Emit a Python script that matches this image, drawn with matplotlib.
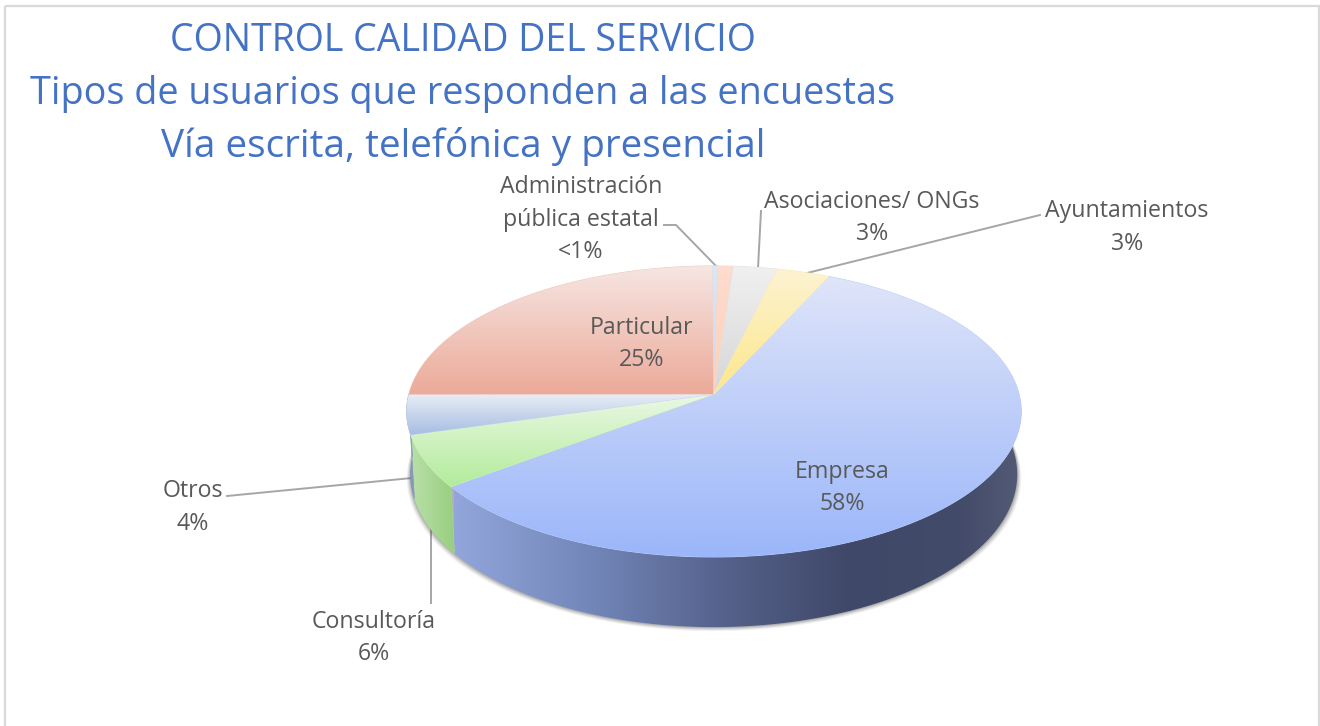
import numpy as np
import matplotlib
matplotlib.use("Agg")
import matplotlib.pyplot as plt
from matplotlib.patches import Polygon, Rectangle

plt.rcParams["font.family"] = ["Open Sans", "DejaVu Sans"]

# data -----------------------------------------------------------------------
# the peach sliver has no label in the chart, hence the empty name
categories = ["Empresa", "Consultoría", "Otros", "Particular",
              "Administración\npública estatal", "", "Asociaciones/ ONGs", "Ayuntamientos"]
shares = [58, 5.8, 4.4, 25, 0.3, 0.9, 2.6, 3.1]
share_labels = ["58%", "6%", "4%", "25%", "<1%", "", "3%", "3%"]
title_lines = ["CONTROL CALIDAD DEL SERVICIO",
               "Tipos de usuarios que responden a las encuestas",
               "Vía escrita, telefónica y presencial"]

# gradient of each top face (light end, dark end)
top_colors = [("#dfe5f9", "#9bb6f9"), ("#ebf8e5", "#b2ec9a"), ("#e8edf6", "#a6bde2"),
              ("#f6e6e2", "#ecaa99"), ("#dce8f6", "#c5d9f0"), ("#fddccf", "#fdcfba"),
              ("#f0f0f0", "#d6d6d6"), ("#fcf3d2", "#fde78a")]

# geometry of the tilted pie (pixels)
CX, CY = 714, 394
A, B, K = 305, 143.4, 0.12
START = 24.6
BOT_CY, BOT_SX, BOT_SY = 456, 0.987, 1.05


def rim(theta, bottom=False):
    """Clockwise angle from the top -> x, y on the top or bottom disc rim."""
    t = np.radians(theta)
    u, v = np.sin(t), np.cos(t)
    d = 1 + K * v
    x, y = A * u / d, B * v / d
    if bottom:
        return CX + BOT_SX * x, BOT_CY - BOT_SY * y
    return CX + x, CY - y


def fill_gradient(ax, xs, ys, c0, c1, zorder, vertical=True):
    """Polygon filled with a two colour gradient across its own bounding box."""
    c0, c1 = np.array(matplotlib.colors.to_rgb(c0)), np.array(matplotlib.colors.to_rgb(c1))
    f = np.linspace(0, 1, 256)[:, None]
    grad = c0 * (1 - f) + c1 * f
    grad = grad[:, None, :] if vertical else grad[None, :, :]
    poly = Polygon(np.c_[xs, ys], closed=True, facecolor=(c0 + c1) / 2,
                   edgecolor=(c0 + c1) / 2, lw=0.7, zorder=zorder)
    ax.add_patch(poly)
    im = ax.imshow(grad, extent=(min(xs), max(xs), max(ys), min(ys)), origin="upper",
                   aspect="auto", interpolation="bilinear", zorder=zorder + 0.01)
    im.set_clip_path(Polygon(np.c_[xs, ys], closed=True, transform=ax.transData))


fig = plt.figure(figsize=(13.2, 7.26), dpi=100)
ax = fig.add_axes([0, 0, 1, 1])
ax.axis("off")

ax.add_patch(Rectangle((5, 6), 1314, 730, fill=False, edgecolor="#d9d9d9", lw=1.6))

# title
for line, y, size in zip(title_lines, [41, 94, 146], [27, 27.2, 27.9]):
    ax.text(463, y, line, color="#4472c4", fontsize=size, ha="center", va="center")

# slice boundaries
fracs = np.array(shares) / sum(shares) * 360
edges = START + np.r_[0, np.cumsum(fracs)]

# leader lines go behind the pie
for pts in [[(664, 225), (676, 225), (717, 267)], [(761, 211), (758, 268)],
            [(1040, 215), (803, 274)], [(227, 496), (412, 478)], [(431, 603), (431, 520)]]:
    ax.plot(*zip(*pts), color="#a6a6a6", lw=1.4, zorder=2)

# soft shadow under the pie
th = np.linspace(60, 290, 300)
for grow, alpha in [(4, 0.07), (3, 0.10), (2, 0.13), (1, 0.18)]:
    bx, by = rim(th, bottom=True)
    ax.fill(CX + (bx - CX) * (1 + grow / 305), by + grow, color="#404040", alpha=alpha, lw=0, zorder=3)

# side wall, only the front part shows
wall_colors = [None, ("#b9e0a8", "#98ce80"), ("#7f90b4", "#8c9dc0")]
th = np.linspace(edges[0], edges[1], 200)
tx, ty = rim(th)
bx, by = rim(th, bottom=True)
xs, ys = np.r_[tx, bx[::-1]], np.r_[ty, by[::-1]]
stops_x = [454, 600, 720, 850, 960, 1022]
stops_c = ["#92a6dc", "#7084b6", "#56628c", "#3f4868", "#434b6a", "#535b76"]
for (x0, c0), (x1, c1) in zip(zip(stops_x, stops_c), zip(stops_x[1:], stops_c[1:])):
    keep = Polygon(np.c_[xs, ys], closed=True, transform=ax.transData)
    rgb0, rgb1 = np.array(matplotlib.colors.to_rgb(c0)), np.array(matplotlib.colors.to_rgb(c1))
    f = np.linspace(0, 1, 128)[:, None]
    im = ax.imshow(((rgb0 * (1 - f) + rgb1 * f))[None, :, :], extent=(x0 - 0.5, x1 + 0.5, 640, 400),
                   aspect="auto", interpolation="bilinear", zorder=4)
    im.set_clip_path(keep)
for i in (1, 2):
    th = np.linspace(edges[i], edges[i + 1], 60)
    tx, ty = rim(th)
    bx, by = rim(th, bottom=True)
    fill_gradient(ax, np.r_[tx, bx[::-1]], np.r_[ty, by[::-1]], *wall_colors[i], zorder=4, vertical=False)

# top faces
for i in range(len(shares)):
    th = np.linspace(edges[i], edges[i + 1], max(4, int(fracs[i] * 2)))
    x, y = rim(th)
    fill_gradient(ax, np.r_[CX, x], np.r_[CY, y], *top_colors[i], zorder=5 + i * 0.1)

# labels
label_pos = [(842, 472), (374, 622), (193, 491), (642, 328), (581, 187), None, (872, 202), (1127, 211)]
for name, pct, pos in zip(categories, share_labels, label_pos):
    if pos is None:
        continue
    x, y = pos
    for j, txt in enumerate(name.split("\n") + [pct]):
        ax.text(x, y + j * 32.5, txt, color="#595959", fontsize=16.7, ha="center", va="center", zorder=8)

ax.set_xlim(0, 1320)
ax.set_ylim(726, 0)
fig.savefig("out.png", dpi=100)
